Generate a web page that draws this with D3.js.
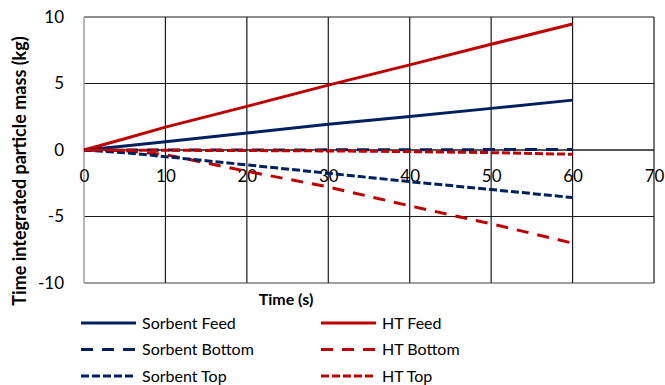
<!DOCTYPE html>
<html>
<head>
<meta charset="utf-8">
<script src="https://cdn.jsdelivr.net/npm/d3@7"></script>
<style>
  body { margin: 0; background: #fff; }
  text { font-family: Lato, "Open Sans", sans-serif; fill: #000; }
</style>
</head>
<body>
<script>
const time = [0, 5, 10, 20, 30, 40, 50, 60];
const sorbentFeed = [0, 0.3, 0.62, 1.27, 1.93, 2.52, 3.13, 3.75];
const htFeed = [0, 0.85, 1.72, 3.28, 4.88, 6.4, 7.95, 9.47];
const sorbentBottom = [0, 0, 0, 0, 0.01, 0.02, 0.03, 0.04];
const htBottom = [0, -0.05, -0.35, -1.6, -2.78, -4.2, -5.55, -7.0];
const sorbentTop = [0, -0.2, -0.5, -1.12, -1.75, -2.38, -2.97, -3.58];
const htTop = [0, -0.01, -0.02, -0.04, -0.07, -0.12, -0.2, -0.32];

const xTicks = [0, 10, 20, 30, 40, 50, 60, 70];
const yTicks = [-10, -5, 0, 5, 10];

const series = [
  { name: "Sorbent Feed", values: sorbentFeed, color: "#002060", dash: null },
  { name: "HT Feed", values: htFeed, color: "#c00000", dash: null },
  { name: "Sorbent Bottom", values: sorbentBottom, color: "#002060", dash: "12,9" },
  { name: "HT Bottom", values: htBottom, color: "#c00000", dash: "12,9" },
  { name: "Sorbent Top", values: sorbentTop, color: "#002060", dash: "8,3" },
  { name: "HT Top", values: htTop, color: "#c00000", dash: "8,3" }
];

const W = 665, H = 385;
const svg = d3.select("body").append("svg").attr("width", W).attr("height", H);

const x = d3.scaleLinear().domain([0, 70]).range([84, 654]);
const y = d3.scaleLinear().domain([-10, 10]).range([283, 17]);

// grid
const grid = svg.append("g");
grid.selectAll("line.v").data(xTicks.slice(1)).enter().append("line")
  .attr("x1", d => x(d)).attr("x2", d => x(d))
  .attr("y1", y(10)).attr("y2", y(-10))
  .attr("stroke", "#1a1a1a").attr("stroke-width", 1.2);
grid.selectAll("line.h").data(yTicks).enter().append("line")
  .attr("x1", x(0)).attr("x2", x(70))
  .attr("y1", d => y(d)).attr("y2", d => y(d))
  .attr("stroke", d => d === -10 ? "#404040" : "#1a1a1a")
  .attr("stroke-width", d => d === 0 ? 1.6 : 1.2);
// left axis
svg.append("line")
  .attr("x1", x(0)).attr("x2", x(0)).attr("y1", y(10)).attr("y2", y(-10))
  .attr("stroke", "#a6a6a6").attr("stroke-width", 1.6);

const fmt = d => String(d); // plain hyphen minus, as in the original

// y tick labels
const yAxis = svg.append("g").attr("transform", `translate(${x(0) - 20},0)`)
  .call(d3.axisLeft(y).tickValues(yTicks).tickSize(0).tickPadding(0).tickFormat(fmt));
yAxis.select(".domain").remove();
yAxis.selectAll("text").style("font-size", "17px").attr("font-family", null);

// x tick labels (below zero line)
const xAxis = svg.append("g").attr("transform", `translate(0,${y(0) + 20})`)
  .call(d3.axisBottom(x).tickValues(xTicks).tickSize(0).tickPadding(0).tickFormat(fmt));
xAxis.select(".domain").remove();
xAxis.selectAll("text").style("font-size", "17px").attr("font-family", null);

// lines
const line = d3.line().x((d, i) => x(time[i])).y(d => y(d));
svg.append("g").selectAll("path").data(series).enter().append("path")
  .attr("d", d => line(d.values))
  .attr("fill", "none")
  .attr("stroke", d => d.color)
  .attr("stroke-width", 3)
  .attr("stroke-dasharray", d => d.dash);

// axis titles
svg.append("text")
  .attr("x", 286).attr("y", 305)
  .attr("text-anchor", "middle")
  .style("font-size", "16px").style("font-weight", "bold")
  .text("Time (s)");
svg.append("text")
  .attr("transform", "translate(26,171) rotate(-90)")
  .attr("text-anchor", "middle")
  .style("font-size", "18px").style("font-weight", "bold")
  .text("Time integrated particle mass (kg)");

// legend
const legend = svg.append("g");
const items = legend.selectAll("g").data(series).enter().append("g")
  .attr("transform", (d, i) => `translate(${i % 2 === 0 ? 81 : 321},${323 + Math.floor(i / 2) * 26.5})`);
items.append("line")
  .attr("x1", 0).attr("x2", 55).attr("y1", 0).attr("y2", 0)
  .attr("stroke", d => d.color).attr("stroke-width", 3)
  .attr("stroke-dasharray", d => d.dash);
items.append("text")
  .attr("x", 61).attr("y", 0).attr("dy", "0.35em")
  .style("font-size", "16px")
  .text(d => d.name);
</script>
</body>
</html>
